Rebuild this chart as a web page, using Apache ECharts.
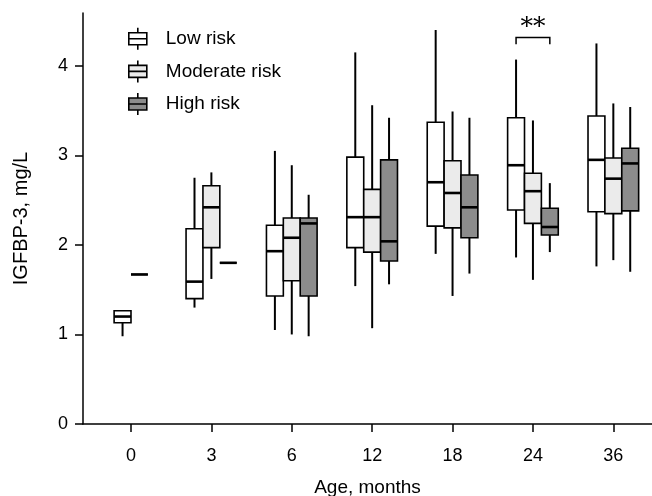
<!DOCTYPE html>
<html lang="en">
<head>
	<meta charset="UTF-8">
	<title>IGFBP-3 by age and risk group</title>
	<script src="https://cdn.jsdelivr.net/npm/echarts@6/dist/echarts.min.js"></script>
	<style>
		html, body { margin: 0; padding: 0; background: #fff; }
		#chart { width: 652px; height: 496px; }
	</style>
</head>
<body>
<div id="chart"></div>
<script>
	// ages (months) shown on the x axis
	var ages = ['0', '3', '6', '12', '18', '24', '36'];
	var groupNames = ['Low risk', 'Moderate risk', 'High risk'];
	// [min, q1, median, q3, max] per age, null = no data
	var lowRisk = [
		[0.98, 1.13, 1.20, 1.265, 1.265],
		[1.30, 1.40, 1.59, 2.18, 2.75],
		[1.05, 1.43, 1.93, 2.22, 3.05],
		[1.54, 1.97, 2.31, 2.98, 4.15],
		[1.90, 2.21, 2.70, 3.37, 4.40],
		[1.86, 2.39, 2.89, 3.42, 4.07],
		[1.76, 2.37, 2.95, 3.44, 4.25]
	];
	var moderateRisk = [
		[1.67, 1.67, 1.67, 1.67, 1.67],
		[1.62, 1.97, 2.42, 2.66, 2.81],
		[1.00, 1.60, 2.08, 2.30, 2.89],
		[1.07, 1.92, 2.31, 2.62, 3.56],
		[1.43, 2.19, 2.58, 2.94, 3.49],
		[1.61, 2.24, 2.60, 2.80, 3.39],
		[1.83, 2.35, 2.74, 2.97, 3.58]
	];
	var highRisk = [
		null,
		[1.80, 1.80, 1.80, 1.80, 1.80],
		[0.98, 1.43, 2.24, 2.30, 2.56],
		[1.56, 1.82, 2.04, 2.95, 3.42],
		[1.68, 2.08, 2.42, 2.78, 3.42],
		[1.92, 2.11, 2.20, 2.41, 2.69],
		[1.70, 2.38, 2.91, 3.08, 3.54]
	];
	var yTicks = [0, 1, 2, 3, 4];
	// significance: 24 months, low vs high
	var sigAge = 5, sigLabel = '**';

	var allGroups = [lowRisk, moderateRisk, highRisk];
	var fills = ['#ffffff', '#ebebeb', '#8c8c8c'];
	var boxW = 0.21;
	var font = 'Liberation Sans, Arial, Helvetica, sans-serif';

	//boxes present at an age are centred round its tick
	function buildData(g){
		var out = [];
		for(var i=0;i<ages.length;i++){
			var v = allGroups[g][i];
			if(!v) continue;
			var present = [];
			for(var k=0;k<allGroups.length;k++){ if(allGroups[k][i]) present.push(k); }
			var pos = present.indexOf(g) - (present.length-1)/2;
			out.push([i + pos*boxW].concat(v));
		}
		return out;
	}

	function renderBox(params, api){
		var x = api.value(0);
		var pMin = api.coord([x, api.value(1)]);
		var pQ1 = api.coord([x, api.value(2)]);
		var pMed = api.coord([x, api.value(3)]);
		var pQ3 = api.coord([x, api.value(4)]);
		var pMax = api.coord([x, api.value(5)]);
		var w = api.size([boxW, 0])[0];
		var cx = pMed[0], l = cx - w/2;
		var line = {stroke:'#000', lineWidth:2};
		return {
			type:'group',
			children:[
				{type:'line', shape:{x1:cx,y1:pQ3[1],x2:cx,y2:pMax[1]}, style:line},
				{type:'line', shape:{x1:cx,y1:pQ1[1],x2:cx,y2:pMin[1]}, style:line},
				{type:'rect', shape:{x:l,y:pQ3[1],width:w,height:pQ1[1]-pQ3[1]},
					style:{fill:api.visual('color'), stroke:'#000', lineWidth:1.6}},
				{type:'line', shape:{x1:l,y1:pMed[1],x2:l+w,y2:pMed[1]}, style:{stroke:'#000', lineWidth:2.6}}
			]
		};
	}

	function renderSig(params, api){
		var a = api.coord([api.value(0), api.value(2)]);
		var b = api.coord([api.value(1), api.value(2)]);
		var tip = api.coord([api.value(0), api.value(3)]);
		var txt = api.coord([(api.value(0)+api.value(1))/2, api.value(4)]);
		return {
			type:'group',
			children:[
				{type:'polyline', shape:{points:[[a[0],tip[1]],[a[0],a[1]],[b[0],b[1]],[b[0],tip[1]]]},
					style:{stroke:'#000', lineWidth:1.5, fill:null}},
				{type:'text', x:txt[0], y:txt[1],
					style:{text:sigLabel, fill:'#000', font:'25px "DejaVu Serif", serif', align:'center', verticalAlign:'middle'}}
			]
		};
	}

	var chart = echarts.init(document.getElementById('chart'));
	var series = [];
	for(var g=0;g<groupNames.length;g++){
		series.push({
			name:groupNames[g],
			type:'custom',
			renderItem:renderBox,
			itemStyle:{color:fills[g]},
			encode:{x:0, y:[1,2,3,4,5]},
			data:buildData(g),
			animation:false,
			silent:true
		});
	}
	series.push({
		type:'custom',
		renderItem:renderSig,
		encode:{x:[0,1], y:[2,3,4]},
		data:[[sigAge - boxW, sigAge + boxW, 4.315, 4.24, 4.43]],
		animation:false,
		silent:true
	});

	var option = {
		backgroundColor:'#fff',
		animation:false,
		grid:{left:83, right:0, top:13, bottom:72, outerBoundsMode:'none', containLabel:false},
		legend:{
			data:groupNames,
			orient:'vertical',
			left:123,
			top:22,
			itemWidth:18,
			itemHeight:22,
			itemGap:9,
			icon:'path://M9,0L9,5M0,5L18,5L18,17L0,17ZM0,11L18,11M9,17L9,22',
			itemStyle:{borderColor:'#000', borderWidth:1.6},
			textStyle:{fontSize:19, color:'#000', fontFamily:font, padding:[0,0,0,14]}
		},
		xAxis:{
			type:'value',
			min:-0.597,
			max:6.481,
			name:'Age, months',
			nameLocation:'middle',
			nameGap:54,
			nameTextStyle:{fontSize:19, color:'#000', fontFamily:font},
			splitLine:{show:false},
			axisLine:{lineStyle:{color:'#000', width:1.5}},
			axisTick:{length:8, lineStyle:{color:'#000', width:1.5}, customValues:[0,1,2,3,4,5,6]},
			axisLabel:{
				customValues:[0,1,2,3,4,5,6],
				margin:23,
				fontSize:18, color:'#000', fontFamily:font,
				formatter:function(v){ return ages[Math.round(v)]; }
			}
		},
		yAxis:{
			type:'value',
			min:0,
			max:4.59,
			name:'IGFBP-3, mg/L',
			nameLocation:'middle',
			nameGap:52,
			nameTextStyle:{fontSize:20, color:'#000', fontFamily:font},
			splitLine:{show:false},
			axisLine:{show:true, onZero:false, lineStyle:{color:'#000', width:1.5}},
			axisTick:{show:true, length:8, lineStyle:{color:'#000', width:1.5}, customValues:yTicks},
			axisLabel:{customValues:yTicks, margin:15, fontSize:18, color:'#000', fontFamily:font}
		},
		series:series
	};
	chart.setOption(option);
</script>
</body>
</html>
